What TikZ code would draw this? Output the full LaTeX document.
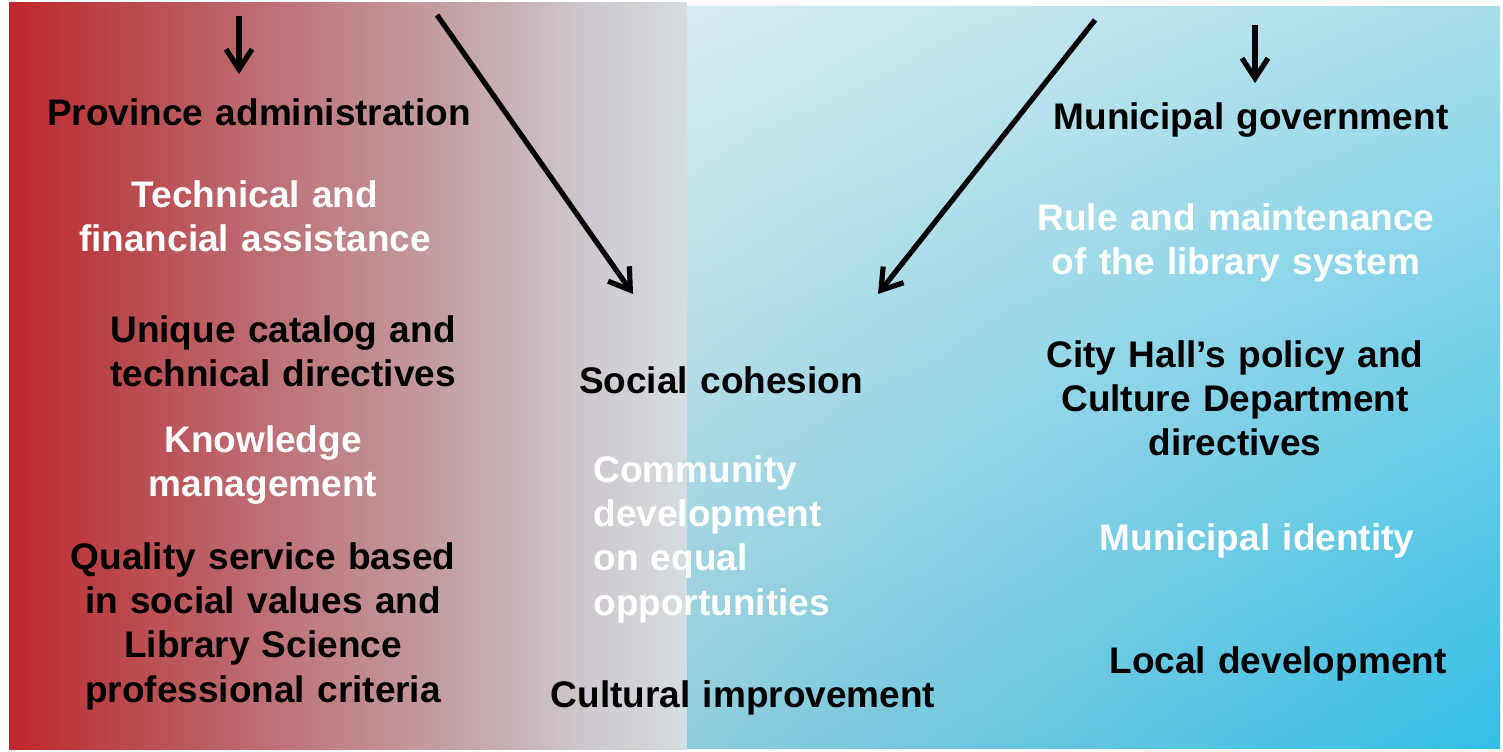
\documentclass[tikz,border=0pt]{standalone}
\usepackage{fontspec}
\setmainfont{Liberation Sans}
\usetikzlibrary{arrows.meta,shadings}
\definecolor{lpA}{RGB}{190,38,42}
\definecolor{lpB}{RGB}{186,68,72}
\definecolor{lpC}{RGB}{190,115,120}
\definecolor{lpD}{RGB}{195,160,165}
\definecolor{lpE}{RGB}{205,200,205}
\definecolor{lpF}{RGB}{215,220,223}
\definecolor{rpUL}{RGB}{214,236,241}
\definecolor{rpUR}{RGB}{168,222,235}
\definecolor{rpLL}{RGB}{142,204,220}
\definecolor{rpLR}{RGB}{52,190,230}
\pgfdeclarehorizontalshading{leftpanel}{100bp}{color(0bp)=(lpA); color(25bp)=(lpA); color(32.5bp)=(lpB); color(45bp)=(lpC); color(57.5bp)=(lpD); color(67.5bp)=(lpE); color(75bp)=(lpF); color(100bp)=(lpF)}
\tikzset{
  lbl/.style={inner sep=0pt, anchor=base, align=center, text width=260pt,
    font=\fontsize{18.5}{22.2}\selectfont\bfseries},
  blk/.style={lbl, text=black},
  wht/.style={lbl, text=white},
  arr/.style={line width=2.6pt, draw=black, -{Straight Barb[length=10pt,width=13pt]}}
}
\begin{document}
\begin{tikzpicture}[x=0.5pt, y=-0.5pt]
\useasboundingbox (0,0) rectangle (1503,751);
\fill[white] (0,0) rectangle (1503,751);
% panels
\shade[shading=leftpanel] (9,2) rectangle (687,749);
\shade[upper left=rpUL, upper right=rpUR, lower left=rpLL, lower right=rpLR] (687,6) rectangle (1500,748);
% left column
\node[blk] (prov) at (259,125) {Province administration};
\node[wht] (tech) at (255,207) {Technical and\\financial assistance};
\node[blk] (uniq) at (283,342) {Unique catalog and\\technical directives};
\node[wht] (know) at (263,452) {Knowledge\\management};
\node[blk] (qual) at (263,569) {Quality service based\\in social values and\\Library Science\\professional criteria};
% middle
\node[blk] (soc) at (721,393) {Social cohesion};
\node[wht, anchor=base west, align=left, text width=220pt] (comm) at (593,482) {Community\\development\\on equal\\opportunities};
\node[blk] (cult) at (743,707) {Cultural improvement};
% right column
\node[blk] (mun) at (1251,129) {Municipal government};
\node[wht] (rule) at (1236,230) {Rule and maintenance\\of the library system};
\node[blk] (city) at (1235,367) {City Hall’s policy and\\Culture Department\\directives};
\node[wht] (mid) at (1257,550) {Municipal identity};
\node[blk] (loc) at (1278,673) {Local development};
% arrows
\coordinate (a1s) at (239,16);
\coordinate (a1e) at (239,74);
\coordinate (a2s) at (1255,25);
\coordinate (a2e) at (1255,83);
\coordinate (a3s) at (437,15);
\coordinate (a3e) at (633,294);
\coordinate (a4s) at (1095,20);
\coordinate (a4e) at (878,294);
\draw[arr] (a1s) -- (a1e);
\draw[arr] (a2s) -- (a2e);
\draw[arr] (a3s) -- (a3e);
\draw[arr] (a4s) -- (a4e);
\end{tikzpicture}
\end{document}
